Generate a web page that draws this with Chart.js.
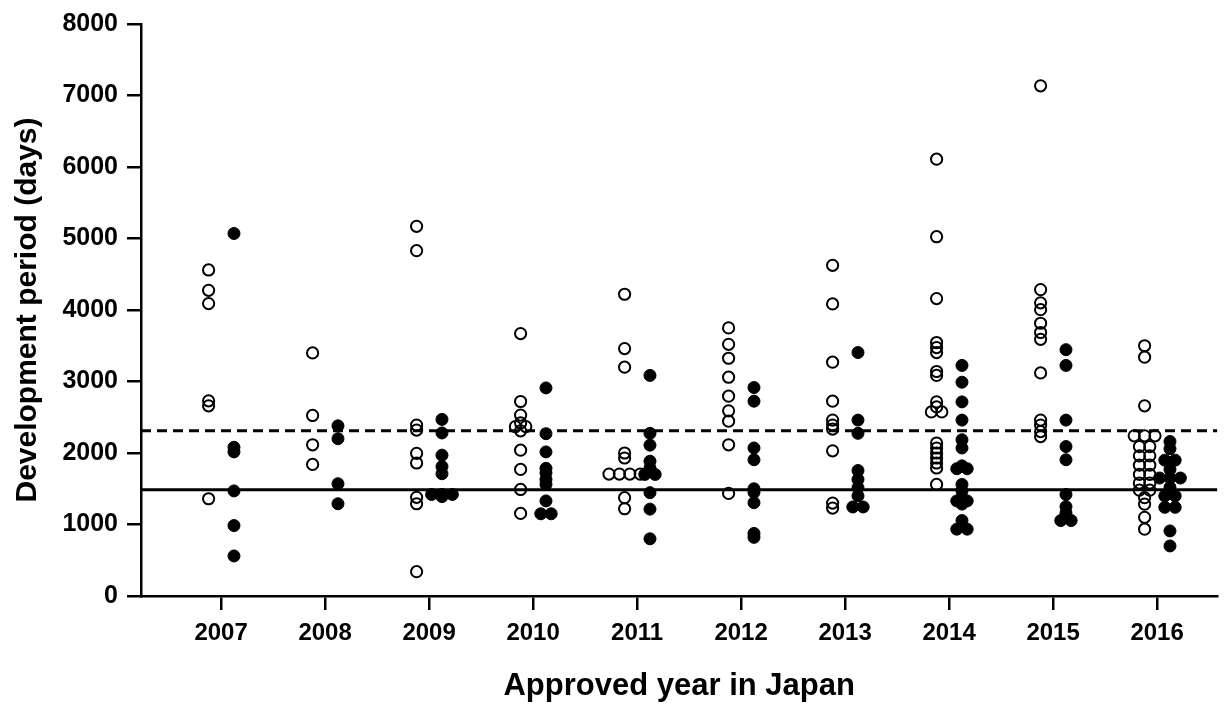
<!DOCTYPE html>
<html>
<head>
<meta charset="utf-8">
<script src="https://cdn.jsdelivr.net/npm/chart.js@4"></script>
<style>
  body { margin: 0; background: #fff; }
  canvas { display: block; }
</style>
</head>
<body>
<canvas id="chart" width="1225" height="705"></canvas>
<script>
// approval years (x categories)
const years = ['2007', '2008', '2009', '2010', '2011', '2012', '2013', '2014', '2015', '2016']

// development period (days), open circles, one list per year
const openValues = [
    [4560, 4275, 4090, 2730, 2660, 1360],
    [3400, 2525, 2115, 1840],
    [5170, 4830, 2390, 2320, 1995, 1860, 1380, 1290, 340],
    [3670, 2720, 2530, 2420, 2370, 2370, 2310, 2040, 1770, 1490, 1155],
    [4220, 3460, 3200, 2000, 1930, 1705, 1705, 1705, 1705, 1375, 1220],
    [3750, 3520, 3325, 3060, 2795, 2590, 2445, 2115, 1435],
    [4625, 4085, 3270, 2725, 2460, 2390, 2335, 2030, 1300, 1230],
    [6110, 5025, 4160, 3545, 3475, 3405, 3140, 3085, 2715, 2645, 2575, 2575, 2140, 2070, 2000, 1930, 1860, 1790, 1560],
    [7135, 4285, 4100, 4005, 3815, 3685, 3590, 3120, 2460, 2390, 2300, 2230],
    [3500, 3340, 2660, 2240, 2240, 2240, 2090, 2090, 1960, 1960, 1830, 1830, 1700, 1700, 1580, 1580, 1480, 1480, 1375, 1285, 1100, 935]
]

// development period (days), filled circles, one list per year
const filledValues = [
    [5070, 2080, 2015, 1470, 985, 560],
    [2380, 2200, 1570, 1290],
    [2470, 2280, 1970, 1810, 1710, 1420, 1420, 1420, 1390],
    [2910, 2270, 2015, 1785, 1720, 1630, 1560, 1330, 1150, 1150],
    [3085, 2275, 2110, 1885, 1790, 1700, 1700, 1445, 1215, 800],
    [2915, 2725, 2070, 1905, 1500, 1450, 1305, 875, 820],
    [3405, 2460, 2275, 1755, 1630, 1515, 1400, 1245, 1245],
    [3225, 2990, 2715, 2460, 2185, 2070, 1820, 1780, 1780, 1560, 1470, 1375, 1330, 1330, 1285, 1055, 935, 935],
    [3445, 3225, 2460, 2090, 1905, 1420, 1250, 1160, 1055, 1055],
    [2160, 2060, 1900, 1900, 1770, 1650, 1650, 1650, 1520, 1400, 1400, 1240, 1240, 910, 700]
]

// reference lines
const refDashed = 2310
const refSolid = 1487

const yTicks = [0, 1000, 2000, 3000, 4000, 5000, 6000, 7000, 8000]

const xMin = 2006.23
const xMax = 2016.58
const openShift = -0.12
const filledShift = 0.124
const rowStep = 0.1

// equal values in a group sit side by side
function spread(values, center) {
    let counts = {}
    values.forEach(v => counts[v] = (counts[v] || 0) + 1)
    let seen = {}
    return values.map(v => {
        let k = seen[v] || 0
        seen[v] = k + 1
        return { x: center + (k - (counts[v] - 1) / 2) * rowStep, y: v }
    })
}

let openPoints = []
let filledPoints = []
years.forEach((y, i) => {
    openPoints = openPoints.concat(spread(openValues[i], Number(y) + openShift))
    filledPoints = filledPoints.concat(spread(filledValues[i], Number(y) + filledShift))
})

const fontFamily = '"Liberation Sans", Arial, sans-serif'

let ctx = document.getElementById('chart')
let chart = new Chart(ctx, {
    data: {
        datasets: [
            {
                type: 'line',
                data: [{ x: xMin, y: refDashed }, { x: xMax, y: refDashed }],
                borderColor: '#000',
                borderWidth: 3,
                borderDash: [10, 6],
                pointRadius: 0,
            },
            {
                type: 'line',
                data: [{ x: xMin, y: refSolid }, { x: xMax, y: refSolid }],
                borderColor: '#000',
                borderWidth: 3,
                pointRadius: 0,
            },
            {
                type: 'scatter',
                data: openPoints,
                pointRadius: 5.6,
                pointBorderWidth: 2,
                borderColor: '#000',
                backgroundColor: 'rgba(255,255,255,0)',
            },
            {
                type: 'scatter',
                data: filledPoints,
                pointRadius: 6,
                pointBorderWidth: 1,
                borderColor: '#000',
                backgroundColor: '#000',
            }
        ]
    },
    options: {
        responsive: false,
        animation: false,
        layout: {
            padding: { top: 18, right: 0, bottom: 0, left: 0 }
        },
        plugins: {
            legend: { display: false },
            tooltip: { enabled: false },
        },
        scales: {
            x: {
                type: 'linear',
                min: xMin,
                max: xMax,
                afterBuildTicks: scale => {
                    scale.ticks = years.map(y => ({ value: Number(y) }))
                },
                afterFit: scale => {
                    scale.height = 109
                },
                ticks: {
                    autoSkip: false,
                    maxRotation: 0,
                    color: '#000',
                    padding: 9,
                    font: { family: fontFamily, size: 24, weight: 'bold' },
                    callback: v => String(v),
                },
                grid: {
                    drawOnChartArea: false,
                    tickLength: 14,
                    color: '#000',
                    lineWidth: 2.5,
                },
                border: { color: '#000', width: 2.5 },
                title: {
                    display: true,
                    text: 'Approved year in Japan',
                    color: '#000',
                    padding: { top: 0, bottom: 0 },
                    font: { family: fontFamily, size: 31, weight: 'bold' },
                },
            },
            y: {
                min: 0,
                max: 8000,
                afterBuildTicks: scale => {
                    scale.ticks = yTicks.map(v => ({ value: v }))
                },
                afterFit: scale => {
                    scale.width = 141
                },
                ticks: {
                    color: '#000',
                    padding: 9,
                    font: { family: fontFamily, size: 25, weight: 'bold' },
                    callback: v => String(v),
                },
                grid: {
                    drawOnChartArea: false,
                    tickLength: 14,
                    color: '#000',
                    lineWidth: 2.5,
                },
                border: { color: '#000', width: 2.5 },
                title: {
                    display: true,
                    text: 'Development period (days)',
                    color: '#000',
                    padding: { top: 10, bottom: 0 },
                    font: { family: fontFamily, size: 30, weight: 'bold' },
                },
            },
        }
    },
})
</script>
</body>
</html>
